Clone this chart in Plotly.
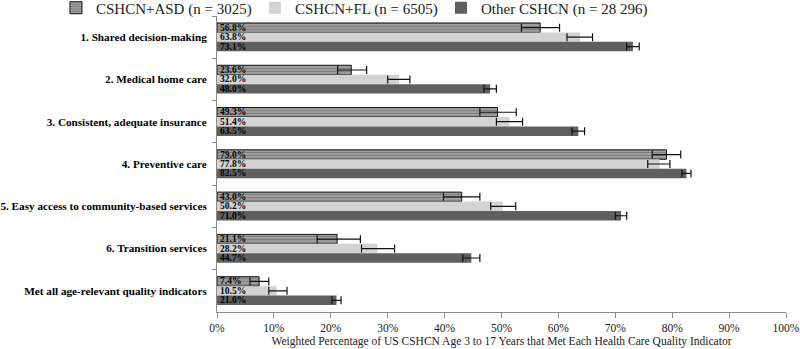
import plotly.graph_objects as go

categories = [
    "1. Shared decision-making",
    "2. Medical home care",
    "3. Consistent, adequate insurance",
    "4. Preventive care",
    "5. Easy access to community-based services",
    "6. Transition services",
    "Met all age-relevant quality indicators",
]

series_names = ["CSHCN+ASD (n = 3025)", "CSHCN+FL (n = 6505)", "Other CSHCN (n = 28 296)"]

asd_values = [56.8, 23.6, 49.3, 79.0, 43.0, 21.1, 7.4]
fl_values = [63.8, 32.0, 51.4, 77.8, 50.2, 28.2, 10.5]
other_values = [73.1, 48.0, 63.5, 82.5, 71.0, 44.7, 21.0]

asd_err_minus = [3.3, 2.4, 3.1, 2.5, 3.2, 3.5, 1.6]
asd_err_plus = [3.4, 2.7, 3.3, 2.5, 3.2, 4.1, 1.7]
fl_err_minus = [2.3, 2.0, 2.3, 2.1, 2.1, 2.8, 1.4]
fl_err_plus = [2.2, 1.9, 2.3, 1.8, 2.3, 3.0, 1.8]
other_err = [1.1, 1.1, 1.1, 0.8, 1.0, 1.5, 0.8]

x_tick_vals = [0, 10, 20, 30, 40, 50, 60, 70, 80, 90, 100]
x_tick_text = [f"{v}%" for v in x_tick_vals]

FONT = "Liberation Serif"

def labels(vals):
    return [f"{v:.1f}%" for v in vals]

fig = go.Figure()

common = dict(
    orientation="h",
    textposition="inside",
    insidetextanchor="start",
    textfont=dict(family=FONT, size=9.5, color="black", weight="bold"),
    insidetextfont=dict(family=FONT, size=9.5, color="black", weight="bold"),
    hoverinfo="skip",
)

fig.add_trace(go.Bar(
    name=series_names[0], y=categories, x=asd_values, text=labels(asd_values), legend="legend",
    marker=dict(color="#9a9a9a", line=dict(color="#111111", width=1),
                pattern=dict(shape="-", fgcolor="#606060", bgcolor="#a0a0a0", size=3, solidity=0.4)),
    error_x=dict(type="data", symmetric=False, array=asd_err_plus, arrayminus=asd_err_minus,
                 color="#111111", thickness=1.2, width=4),
    **common,
))
fig.add_trace(go.Bar(
    name=series_names[1], y=categories, x=fl_values, text=labels(fl_values), legend="legend2",
    marker=dict(color="#d3d3d3", line=dict(color="#d3d3d3", width=0)),
    error_x=dict(type="data", symmetric=False, array=fl_err_plus, arrayminus=fl_err_minus,
                 color="#111111", thickness=1.2, width=4),
    **common,
))
fig.add_trace(go.Bar(
    name=series_names[2], y=categories, x=other_values, text=labels(other_values), legend="legend3",
    marker=dict(color="#5f5f5f", line=dict(color="#5f5f5f", width=0)),
    error_x=dict(type="data", array=other_err, color="#111111", thickness=1.2, width=4),
    **common,
))

legend_style = dict(orientation="h", xanchor="left", y=1.027, yanchor="middle",
                    font=dict(family=FONT, size=15, color="#222222"),
                    bgcolor="rgba(0,0,0,0)", itemwidth=30)

fig.update_layout(
    width=800, height=349,
    margin=dict(l=217, r=14, t=16, b=37, autoexpand=False),
    paper_bgcolor="white", plot_bgcolor="white",
    barmode="group", bargap=0.33, bargroupgap=0,
    uniformtext=dict(mode="show", minsize=9.5),
    font=dict(family=FONT, color="#222222"),
    showlegend=True,
    legend=dict(x=-0.283, **legend_style),
    legend2=dict(x=0.0668, **legend_style),
    legend3=dict(x=0.3937, **legend_style),
    xaxis=dict(range=[0, 100], tickvals=x_tick_vals, ticktext=x_tick_text, automargin=False,
               showgrid=False, zeroline=False, showline=True, linecolor="#8a8a8a", linewidth=1,
               ticks="outside", ticklen=5, tickcolor="#8a8a8a",
               tickfont=dict(family=FONT, size=11.5, color="#222222"),
               title=dict(text="Weighted Percentage of US CSHCN Age 3 to 17 Years that Met Each Health Care Quality Indicator",
                          font=dict(family=FONT, size=11.5, color="#222222"), standoff=4),
               fixedrange=True),
    yaxis=dict(autorange="reversed", type="category", showgrid=False, zeroline=False, automargin=False,
               showline=True, linecolor="#8a8a8a", linewidth=1,
               ticks="outside", ticklen=4, tickcolor="#8a8a8a", tickson="boundaries",
               tickfont=dict(family=FONT, size=11.2, color="black", weight="bold"),
               ticklabelstandoff=7, fixedrange=True),
)

fig.write_html("out.html", config={"displayModeBar": False},
               post_script="document.body.style.margin='0';document.body.style.overflow='hidden';")
